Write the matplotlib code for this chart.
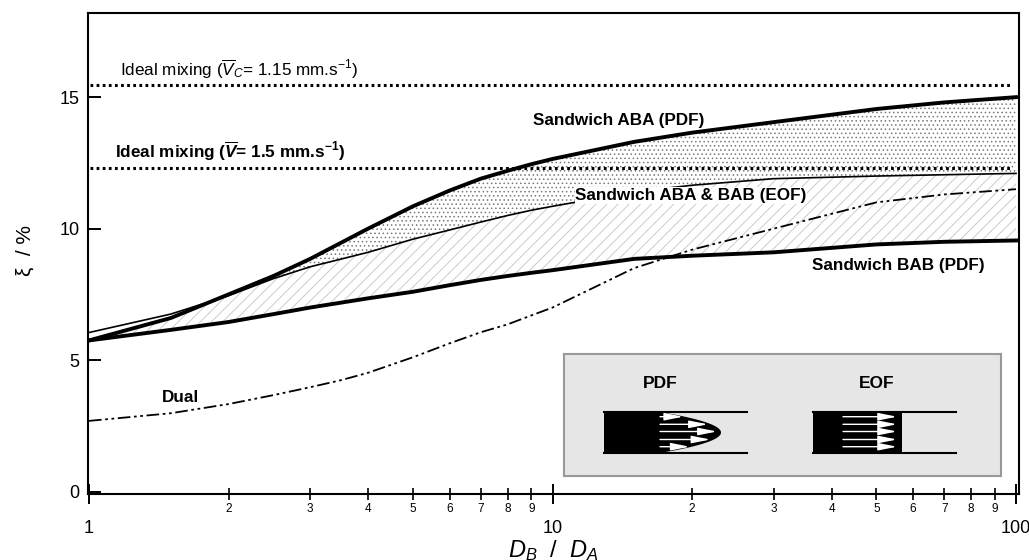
import numpy as np
import matplotlib
matplotlib.use("Agg")
import matplotlib.pyplot as plt
from matplotlib.ticker import FixedLocator, FixedFormatter

plt.rcParams['font.family'] = ['Liberation Sans', 'DejaVu Sans']
plt.rcParams['mathtext.fontset'] = 'custom'
plt.rcParams['mathtext.rm'] = 'Liberation Sans'
plt.rcParams['mathtext.it'] = 'Liberation Sans:italic'
plt.rcParams['mathtext.bf'] = 'Liberation Sans:bold'
plt.rcParams['mathtext.bfit'] = 'Liberation Sans:bold:italic'
plt.rcParams['hatch.linewidth'] = 0.6

# D_B / D_A values
ratio = [1, 1.5, 2, 2.5, 3, 4, 5, 6, 7, 8, 9, 10, 15, 20, 30, 50, 70, 100]
aba_pdf = [5.75, 6.6, 7.5, 8.2, 8.85, 10.0, 10.85, 11.45, 11.9, 12.2, 12.45, 12.65,
           13.3, 13.65, 14.05, 14.55, 14.8, 15.0]
eof = [6.05, 6.75, 7.45, 8.1, 8.55, 9.1, 9.6, 9.95, 10.25, 10.5, 10.7, 10.85,
       11.4, 11.65, 11.9, 12.0, 12.05, 12.1]
bab_pdf = [5.75, 6.15, 6.45, 6.75, 7.0, 7.35, 7.6, 7.85, 8.05, 8.2, 8.32, 8.42,
           8.85, 8.97, 9.1, 9.4, 9.5, 9.55]

dual_ratio = [1, 1.5, 2, 2.5, 3, 3.5, 4, 5, 6, 7, 8, 9, 10, 15, 20, 30, 50, 70, 100]
dual = [2.69, 2.98, 3.33, 3.67, 3.97, 4.24, 4.52, 5.11, 5.64, 6.06, 6.36, 6.70, 7.0,
        8.5, 9.2, 10.0, 11.0, 11.3, 11.5]

ideal_vc = 15.46
ideal_v = 12.31

x = np.array(ratio)
top = np.array(aba_pdf)
mid = np.array(eof)
low = np.array(bab_pdf)

fig = plt.figure(figsize=(10.29, 5.6), dpi=100)
ax = fig.add_axes([88 / 1029, 1 - 494 / 560, (1019 - 88) / 1029, (494 - 13) / 560])
ax.set_xscale('log')
ax.set_xlim(0.995, 101.5)
ax.set_ylim(-0.09, 18.2)

# hatched bands
ax.fill_between(x, mid, top, where=top >= mid, interpolate=True, facecolor='white',
                edgecolor='#7a7a7a', hatch='....', linewidth=0, zorder=1)
ax.fill_between(x, low, np.minimum(mid, top), facecolor='white',
                edgecolor='#c4c4c4', hatch='///', linewidth=0, zorder=1)

ax.plot(x, top, color='black', lw=2.8, zorder=3)
ax.plot(x, low, color='black', lw=2.8, zorder=3)
ax.plot(x, mid, color='black', lw=1.2, zorder=3)
ax.plot(dual_ratio, dual, color='black', lw=1.3, linestyle=(0, (7, 2, 1.5, 2, 1.5, 2)), zorder=3)

ax.axhline(ideal_vc, xmin=0.002, xmax=0.99, color='black', lw=2.2, linestyle=(0, (0.9, 1.1)))
ax.axhline(ideal_v, xmin=0.002, xmax=0.99, color='black', lw=2.2, linestyle=(0, (0.9, 1.1)))

fs = 12.3
ax.text(1.167, 16.07, r'Ideal mixing ($\mathit{\overline{V}_C}$= 1.15 mm.s$^{-1}$)',
        fontsize=fs, ha='left', va='center')
ax.text(1.138, 12.92, r'Ideal mixing ($\mathbfit{\overline{V}}$= 1.5 mm.s$^{\mathbf{-1}}$)',
        fontsize=fs, fontweight='bold', ha='left', va='center')
ax.text(9.06, 14.1, 'Sandwich ABA (PDF)', fontsize=fs, fontweight='bold', va='center')
ax.text(11.2, 11.26, 'Sandwich ABA & BAB (EOF)', fontsize=fs, fontweight='bold', va='center',
        bbox=dict(facecolor='white', edgecolor='none', pad=0.5), zorder=4)
ax.text(36.3, 8.6, 'Sandwich BAB (PDF)', fontsize=fs, fontweight='bold', va='center')
ax.text(1.437, 3.59, 'Dual', fontsize=fs, fontweight='bold', va='center')

# axes styling
for s in ax.spines.values():
    s.set_linewidth(1.5)
ax.set_yticks([0, 5, 10, 15])
ax.tick_params(axis='y', direction='in', length=9, width=1.4, labelsize=13, pad=6)
ax.xaxis.set_major_locator(FixedLocator([1, 10, 100]))
ax.xaxis.set_major_formatter(FixedFormatter(['1', '10', '100']))
minors = [m * d for d in (1, 10) for m in range(2, 10)]
ax.xaxis.set_minor_locator(FixedLocator(minors))
ax.xaxis.set_minor_formatter(FixedFormatter([str(m) for d in (1, 10) for m in range(2, 10)]))
ax.tick_params(axis='x', which='major', direction='inout', length=14, width=1.4,
               labelsize=13, pad=12)
ax.tick_params(axis='x', which='minor', direction='inout', length=9, width=1.2,
               labelsize=8.5, pad=2)

fig.text(553 / 1029, 1 - 557 / 560, r'$D_B$  /  $D_A$', fontsize=17, ha='center', va='baseline')
fig.text(25 / 1029, 1 - 250 / 560, 'ξ  / %', fontsize=15, rotation=90, ha='center', va='center')

# inset with flow profiles
ins = fig.add_axes([564 / 1029, 1 - 476 / 560, (1001 - 564) / 1029, (476 - 354) / 560])
ins.set_xlim(0, 437)
ins.set_ylim(122, 0)
ins.set_xticks([])
ins.set_yticks([])
ins.set_facecolor('#e6e6e6')
for s in ins.spines.values():
    s.set_edgecolor('#999999')
    s.set_linewidth(1.5)

ins.text(96, 29, 'PDF', fontsize=12.5, fontweight='bold', ha='center', va='center')
ins.text(313, 29, 'EOF', fontsize=12.5, fontweight='bold', ha='center', va='center')

yy = np.linspace(58, 99, 60)
front = 96 + 61 * (1 - ((yy - 78.5) / 20.5) ** 2)
px = np.concatenate([[40], front, [40]])
py = np.concatenate([[58], yy, [99]])
ins.fill(px, py, color='black', lw=0)
ins.plot([40, 183], [58, 58], color='black', lw=1.5)
ins.plot([40, 183], [99, 99], color='black', lw=1.5)

ins.fill([249, 338, 338, 249], [58, 58, 99, 99], color='black', lw=0)
ins.plot([249, 392], [58, 58], color='black', lw=1.5)
ins.plot([249, 392], [99, 99], color='black', lw=1.5)

style = '-|>,head_length=0.8,head_width=0.16'
for ay in [62.7, 70.3, 77.5, 85.5, 92.7]:
    end = 96 + 57 * (1 - ((ay - 78.5) / 20.5) ** 2)
    ins.annotate('', xy=(end, ay), xytext=(96, ay),
                 arrowprops=dict(arrowstyle=style, color='white', lw=1, mutation_scale=14,
                                 shrinkA=0, shrinkB=0))
    ins.annotate('', xy=(333, ay), xytext=(279, ay),
                 arrowprops=dict(arrowstyle=style, color='white', lw=1, mutation_scale=14,
                                 shrinkA=0, shrinkB=0))

fig.savefig('out.png', dpi=100)
